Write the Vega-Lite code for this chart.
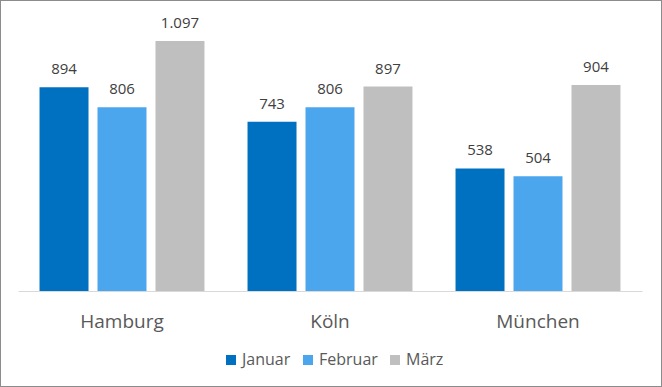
{
  "$schema": "https://vega.github.io/schema/vega-lite/v6.json",
  "width": 662,
  "height": 387,
  "padding": 0,
  "autosize": {"type": "none"},
  "background": "white",
  "config": {
    "view": {"stroke": "#8c8c8c", "strokeWidth": 2},
    "font": "Open Sans",
    "locale": {
      "number": {"decimal": ",", "thousands": ".", "grouping": [3], "currency": ["", " €"]}
    }
  },
  "data": {
    "values": [
      {"Stadt": "Hamburg", "Monat": "Januar", "Wert": 894},
      {"Stadt": "Hamburg", "Monat": "Februar", "Wert": 806},
      {"Stadt": "Hamburg", "Monat": "März", "Wert": 1097},
      {"Stadt": "Köln", "Monat": "Januar", "Wert": 743},
      {"Stadt": "Köln", "Monat": "Februar", "Wert": 806},
      {"Stadt": "Köln", "Monat": "März", "Wert": 897},
      {"Stadt": "München", "Monat": "Januar", "Wert": 538},
      {"Stadt": "München", "Monat": "Februar", "Wert": 504},
      {"Stadt": "München", "Monat": "März", "Wert": 904}
    ]
  },
  "encoding": {
    "x": {
      "field": "Stadt",
      "type": "nominal",
      "sort": ["Hamburg", "Köln", "München"],
      "scale": {"range": [18, 642], "paddingInner": 0.207, "paddingOuter": 0.1035},
      "axis": {
        "title": null,
        "orient": "bottom",
        "offset": -96,
        "labelAngle": 0,
        "ticks": false,
        "domainColor": "#d9d9d9",
        "domainWidth": 1,
        "labelFontSize": 19,
        "labelColor": "#595959",
        "labelPadding": 21,
        "labelFont": "Open Sans"
      }
    },
    "xOffset": {
      "field": "Monat",
      "type": "nominal",
      "sort": ["Januar", "Februar", "März"],
      "scale": {"paddingInner": 0.155, "paddingOuter": 0}
    },
    "y": {
      "field": "Wert",
      "type": "quantitative",
      "scale": {"domain": [-421.2, 1276.8], "nice": false, "zero": false},
      "axis": null
    }
  },
  "layer": [
    {
      "mark": {"type": "bar"},
      "encoding": {
        "y2": {"datum": 0},
        "color": {
          "field": "Monat",
          "type": "nominal",
          "sort": ["Januar", "Februar", "März"],
          "scale": {"domain": ["Januar", "Februar", "März"], "range": ["#0070c0", "#4ba6ee", "#bfbfbf"]},
          "legend": {
            "title": null,
            "orient": "none",
            "direction": "horizontal",
            "legendX": 223,
            "legendY": 352,
            "symbolType": "square",
            "symbolSize": 100,
            "symbolStrokeWidth": 0,
            "symbolOpacity": 1,
            "labelFontSize": 16,
            "labelColor": "#595959",
            "labelFont": "Open Sans",
            "columnPadding": 9,
            "labelOffset": 3
          }
        }
      }
    },
    {
      "mark": {"type": "text", "baseline": "bottom", "dy": -10, "fontSize": 15, "color": "#404040", "font": "Open Sans"},
      "encoding": {
        "text": {"field": "Wert", "type": "quantitative", "format": ",d"}
      }
    }
  ]
}
